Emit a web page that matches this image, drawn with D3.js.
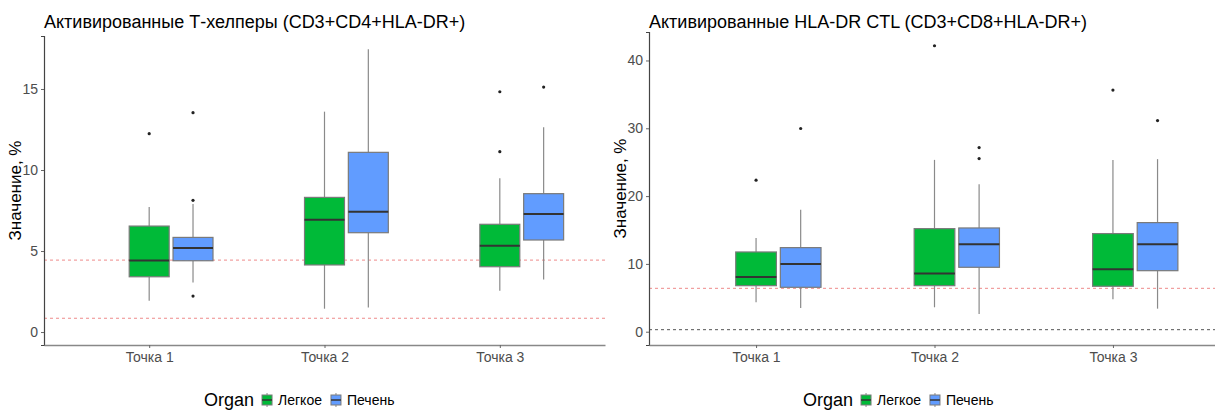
<!DOCTYPE html>
<html>
<head>
<meta charset="utf-8">
<script src="https://cdn.jsdelivr.net/npm/d3@7"></script>
<style>
  body { margin: 0; background: #fff; }
  svg { font-family: 'Liberation Sans', Arial, sans-serif; }
  .tick text { fill: #4d4d4d; font-size: 14px; }
  .title { font-size: 18px; fill: #000; }
  .ylab { font-size: 17px; fill: #000; }
  .legtitle { font-size: 18px; fill: #000; }
  .leglab { font-size: 14px; fill: #000; }
</style>
</head>
<body>
<svg id="chart" width="1215" height="410"></svg>
<script>
const categories = ['Точка 1', 'Точка 2', 'Точка 3'];
const organs = ['Легкое', 'Печень'];
const organColors = ['#00BA38', '#619CFF'];

// Левая панель: CD3+CD4+HLA-DR+ ; [нижний ус, Q1, медиана, Q3, верхний ус]
const cd4Lung = [[1.93, 3.41, 4.42, 6.54, 7.72], [1.44, 4.14, 6.93, 8.31, 13.6], [2.55, 4.03, 5.33, 6.65, 9.49]];
const cd4Liver = [[3.05, 4.40, 5.19, 5.84, 7.9], [1.52, 6.13, 7.43, 11.09, 17.45], [3.25, 5.68, 7.28, 8.54, 12.64]];
const cd4LungOut = [[12.24], [], [14.83, 11.13]];
const cd4LiverOut = [[13.54, 8.13, 2.22], [], [15.12]];
const cd4RefLines = [4.44, 0.85];
const cd4Ticks = [0, 5, 10, 15];

// Правая панель: CD3+CD8+HLA-DR+
const cd8Lung = [[4.34, 6.79, 8.07, 11.76, 13.83], [3.6, 6.79, 8.6, 15.2, 25.34], [4.78, 6.7, 9.2, 14.47, 25.34]];
const cd8Liver = [[3.5, 6.55, 9.99, 12.4, 18.0], [2.61, 9.5, 12.9, 15.3, 21.75], [3.4, 9.0, 12.9, 16.09, 25.45]];
const cd8LungOut = [[22.35], [42.17], [35.63]];
const cd8LiverOut = [[29.97], [27.16, 25.54], [31.14]];
const cd8RefLines = [6.4, 0.3];
const cd8Ticks = [0, 10, 20, 30, 40];

const svg = d3.select('#chart');

function drawPanel(cfg) {
  const g = svg.append('g');
  const x = d3.scalePoint().domain(categories).range([cfg.left, cfg.right]).padding(0.6);
  const y = d3.scaleLinear().domain(cfg.domain).range([cfg.bottom, cfg.top]);
  const step = x.step();
  const boxW = step * 0.228;
  const offsets = [0, step * 0.25];

  // заголовок
  g.append('text').attr('class', 'title')
    .attr('x', cfg.left).attr('y', 28).text(cfg.title);

  // подпись оси Y
  g.append('text').attr('class', 'ylab')
    .attr('transform', `translate(${cfg.left - 23}, ${(cfg.top + cfg.bottom) / 2}) rotate(-90)`)
    .attr('text-anchor', 'middle').text('Значение, %');

  // пунктирные линии
  g.selectAll('.ref').data(cfg.refs).enter().append('line')
    .attr('x1', cfg.left).attr('x2', Math.min(cfg.right, 1215))
    .attr('y1', d => y(d)).attr('y2', d => y(d))
    .attr('stroke', (d, i) => cfg.refColors[i])
    .attr('stroke-width', 1).attr('stroke-dasharray', '3,3');

  // боксплоты
  const series = [cfg.lung, cfg.liver];
  const outs = [cfg.lungOut, cfg.liverOut];
  series.forEach((s, k) => {
    const grp = g.selectAll(null).data(s).enter().append('g');
    const cx = (d, i) => x(categories[i]) + offsets[k];
    grp.append('line')
      .attr('x1', cx).attr('x2', cx)
      .attr('y1', d => y(d[0])).attr('y2', d => y(d[1]))
      .attr('stroke', '#8a8a8a').attr('stroke-width', 1.2);
    grp.append('line')
      .attr('x1', cx).attr('x2', cx)
      .attr('y1', d => y(d[3])).attr('y2', d => y(d[4]))
      .attr('stroke', '#8a8a8a').attr('stroke-width', 1.2);
    grp.append('rect')
      .attr('x', (d, i) => cx(d, i) - boxW / 2)
      .attr('y', d => y(d[3]))
      .attr('width', boxW)
      .attr('height', d => y(d[1]) - y(d[3]))
      .attr('fill', organColors[k])
      .attr('stroke', '#7a7a7a').attr('stroke-width', 1.2);
    grp.append('line')
      .attr('x1', (d, i) => cx(d, i) - boxW / 2).attr('x2', (d, i) => cx(d, i) + boxW / 2)
      .attr('y1', d => y(d[2])).attr('y2', d => y(d[2]))
      .attr('stroke', '#333').attr('stroke-width', 2);

    outs[k].forEach((arr, i) => {
      g.selectAll(null).data(arr).enter().append('circle')
        .attr('cx', x(categories[i]) + offsets[k])
        .attr('cy', d => y(d))
        .attr('r', 1.6).attr('fill', '#222');
    });
  });

  // оси
  const yAxis = g.append('g').attr('transform', `translate(${cfg.left},0)`)
    .call(d3.axisLeft(y).tickValues(cfg.ticks).tickSize(3).tickPadding(3));
  yAxis.select('.domain').attr('stroke', '#444').attr('stroke-width', 1.2);
  yAxis.selectAll('.tick line').attr('stroke', '#666');

  const xAxis = g.append('g').attr('transform', `translate(0,${cfg.bottom})`)
    .call(d3.axisBottom(x).tickSize(3).tickPadding(4).tickSizeOuter(0));
  xAxis.select('.domain').attr('stroke', '#888').attr('stroke-width', 1.4);
  xAxis.selectAll('.tick line').attr('stroke', '#666');

  // легенда
  const leg = g.append('g').attr('transform', `translate(${cfg.legendX}, 400)`);
  const lt = leg.append('text').attr('class', 'legtitle').attr('x', 0).attr('y', 6).text('Organ');
  let pos = lt.node().getComputedTextLength() + 8;
  organs.forEach((o, k) => {
    const kg = leg.append('g').attr('transform', `translate(${pos}, 0)`);
    kg.append('line').attr('x1', 5).attr('x2', 5).attr('y1', -7).attr('y2', 7)
      .attr('stroke', '#8a8a8a');
    kg.append('rect').attr('x', 0).attr('y', -5).attr('width', 10).attr('height', 10)
      .attr('fill', organColors[k]).attr('stroke', '#7a7a7a');
    kg.append('line').attr('x1', 0).attr('x2', 10).attr('y1', 0).attr('y2', 0)
      .attr('stroke', '#333').attr('stroke-width', 1.5);
    const t = kg.append('text').attr('class', 'leglab').attr('x', 16).attr('y', 5).text(o);
    pos += 16 + t.node().getComputedTextLength() + 9;
  });
}

drawPanel({
  title: 'Активированные Т-хелперы (CD3+CD4+HLA-DR+)',
  left: 44, right: 605, top: 36, bottom: 345,
  domain: [-0.8, 18.27],
  ticks: cd4Ticks,
  lung: cd4Lung, liver: cd4Liver, lungOut: cd4LungOut, liverOut: cd4LiverOut,
  refs: cd4RefLines, refColors: ['#ee8a8a', '#ee8a8a'],
  legendX: 204
});

drawPanel({
  title: 'Активированные HLA-DR CTL (CD3+CD8+HLA-DR+)',
  left: 649, right: 1220, top: 32, bottom: 345,
  domain: [-1.96, 44.2],
  ticks: cd8Ticks,
  lung: cd8Lung, liver: cd8Liver, lungOut: cd8LungOut, liverOut: cd8LiverOut,
  refs: cd8RefLines, refColors: ['#ee8a8a', '#555'],
  legendX: 803
});
</script>
</body>
</html>
